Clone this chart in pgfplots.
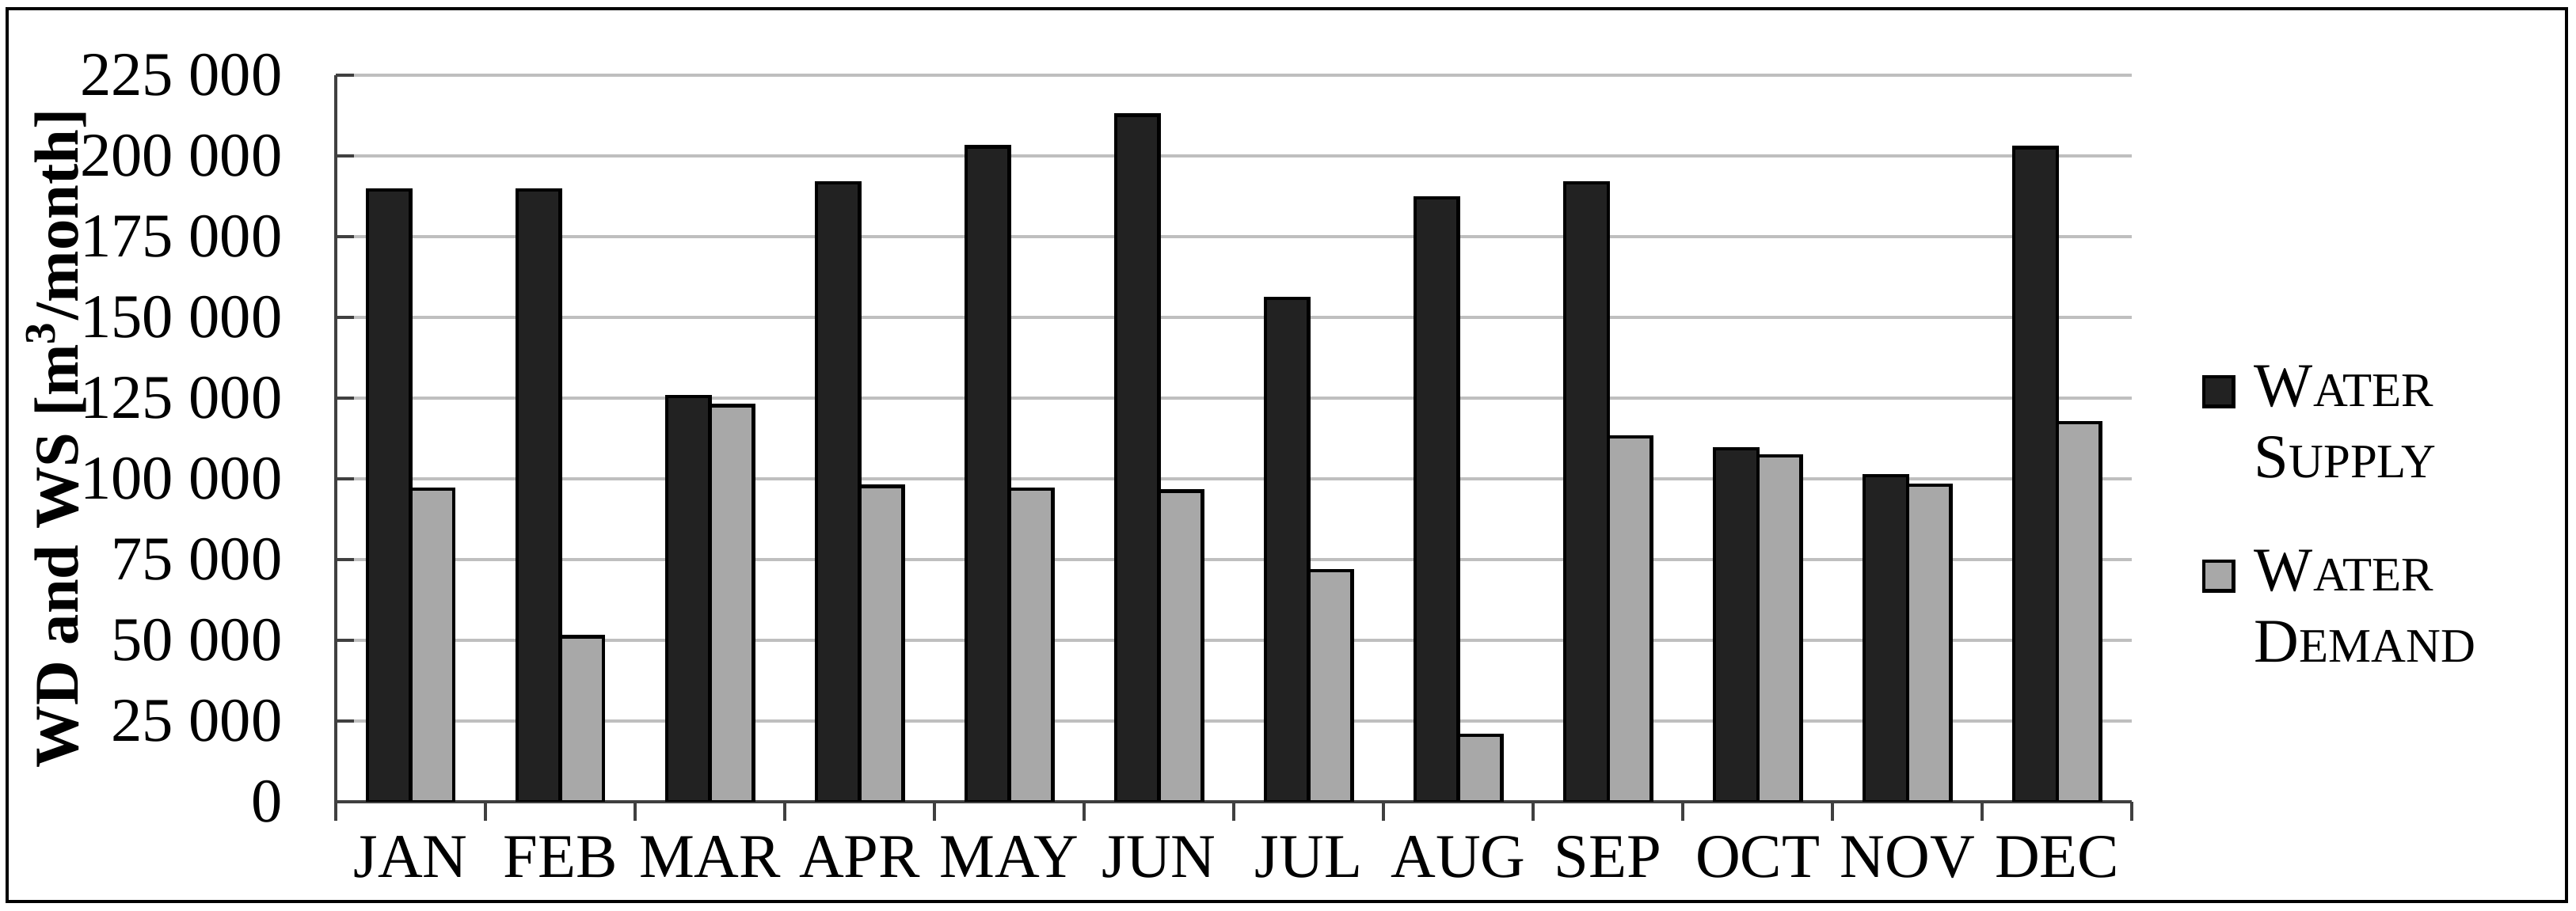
\documentclass[border=0pt]{standalone}
\usepackage{fontspec}
\setmainfont{Liberation Serif}
\usepackage{pgfplots}
\usepackage{pgfplotstable}
\pgfplotsset{compat=1.18}
\definecolor{cSup}{HTML}{222222}
\definecolor{cDem}{HTML}{A8A8A8}
\definecolor{cGrid}{HTML}{BFBFBF}
\definecolor{cAx}{HTML}{404040}
% fake small caps: capital + smaller capitals
\newcommand{\fsc}[2]{#1{\fontsize{8.5}{9}\selectfont #2}}

% month index, water supply, water demand  [m3/month]
\pgfplotstableread{
m sup dem
0 189500 96900
1 189500 51100
2 125500 122700
3 191700 97700
4 202800 96800
5 212600 96200
6 155900 71500
7 187100 20600
8 191700 113000
9 109400 107100
10 101000 98000
11 202600 117400
}\wsdata

\pgfplotsset{
  sqlegend/.style={legend image code/.code={
    \draw[##1, line width=0.6pt] (0pt,3.5pt) rectangle (5.25pt,8.75pt);}},
}

\begin{document}
\begin{tikzpicture}
\useasboundingbox (0,0) rectangle (16cm,5.6563cm);
\draw[line width=0.6pt] (0.044cm,0.054cm) rectangle (15.941cm,5.602cm);
\begin{axis}[
  at={(2.0855cm,0.674cm)}, anchor=south west,
  scale only axis, width=11.156cm, height=4.515cm,
  font=\fontsize{11}{12.6}\selectfont,
  ybar=0pt, bar width=0.29,
  xmin=-0.5, xmax=11.5, ymin=0, ymax=225000,
  enlargelimits=false, scaled y ticks=false,
  axis lines*=left,
  axis line style={cAx, line width=0.6pt},
  xtick={0,...,11},
  xticklabels={JAN,FEB,MAR,APR,MAY,JUN,JUL,AUG,SEP,OCT,NOV,DEC},
  major x tick style={draw=none},
  minor xtick={-0.5,0.5,...,11.5},
  minor x tick style={cAx, line width=0.6pt},
  xtick align=outside, minor tick length=3.35pt,
  ytick={0,25000,...,225000},
  yticklabels={0,25 000,50 000,75 000,100 000,125 000,150 000,175 000,200 000,225 000},
  ytick align=inside, major tick length=3.2pt,
  major y tick style={cAx, line width=0.6pt},
  xticklabel style={anchor=base, yshift=-10.2pt},
  yticklabel style={anchor=east, xshift=-5.9pt},
  ymajorgrids, grid style={cGrid, line width=0.6pt},
  ylabel={\textbf{WD and WS [m\textsuperscript{3}/month]}},
  every axis y label/.style={at={(axis description cs:0,0.5)}, xshift=-45.6pt, rotate=90, anchor=base},
  legend style={at={(axis description cs:1.0384,0.617)}, anchor=north west,
    draw=none, fill=none, inner sep=0pt, row sep=7.3pt, column sep=1.4pt,
    cells={align=left}, font=\fontsize{11}{12.6}\selectfont},
  legend cell align=left,
]
\addplot[fill=cSup, draw=black, line width=0.6pt, sqlegend] table[x=m, y=sup] {\wsdata};
\addlegendentry{\fsc{W}{ATER}\\\fsc{S}{UPPLY}}
\addplot[fill=cDem, draw=black, line width=0.6pt, sqlegend] table[x=m, y=dem] {\wsdata};
\addlegendentry{\fsc{W}{ATER}\\\fsc{D}{EMAND}}
\end{axis}
\end{tikzpicture}
\end{document}
